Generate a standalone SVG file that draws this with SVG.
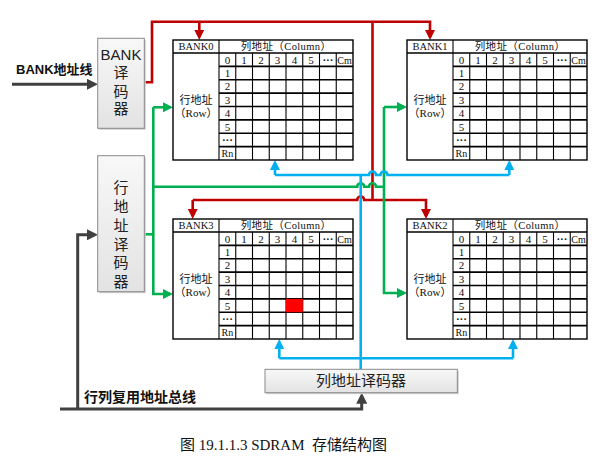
<svg xmlns="http://www.w3.org/2000/svg" xmlns:xlink="http://www.w3.org/1999/xlink" width="598" height="459" viewBox="0 0 598 459">
<style>
.tb{font-family:"Liberation Serif","Noto Sans CJK SC",serif;fill:#111;text-anchor:middle}
.hd{font-size:10.5px}
.rl{font-size:11px}
.dg{font-size:11px}
.cm{font-size:10px}
.dt{font-size:11px;font-weight:bold}
.box{fill:url(#bg);stroke:#8a8a8a;stroke-width:1}
.shd{fill:#cfcfcf}
.bt{font-family:"Liberation Sans","Noto Sans CJK SC",sans-serif;font-size:15px;fill:#222;text-anchor:middle}
.lb{font-family:"Liberation Sans","Noto Sans CJK SC",sans-serif;font-weight:bold;fill:#111}
.cap{font-family:"Liberation Serif","Noto Sans CJK SC",serif;font-size:15px;fill:#111;text-anchor:middle;white-space:pre}
.r{fill:none;stroke:#c00000;stroke-width:2.6}
.g{fill:none;stroke:#00b050;stroke-width:2.6}
.b{fill:none;stroke:#00b0f0;stroke-width:2.6}
.k{fill:none;stroke:#404040;stroke-width:3}
.gh{stroke:#000;stroke-width:1.6}
.gv{stroke:#000;stroke-width:1.1}
</style>
<defs>
<linearGradient id="bg" x1="0" y1="0" x2="0" y2="1">
<stop offset="0" stop-color="#f8f8f8"/>
<stop offset="1" stop-color="#e3e3e3"/>
</linearGradient>
<marker id="ar" viewBox="0 0 10 10" refX="7" refY="5" markerWidth="10" markerHeight="10" markerUnits="userSpaceOnUse" orient="auto"><path d="M0,0 L10,5 L0,10 z" fill="#c00000"/></marker>
<marker id="ag" viewBox="0 0 10 10" refX="7" refY="5" markerWidth="10" markerHeight="10" markerUnits="userSpaceOnUse" orient="auto"><path d="M0,0 L10,5 L0,10 z" fill="#00b050"/></marker>
<marker id="ab" viewBox="0 0 10 10" refX="7" refY="5" markerWidth="10" markerHeight="10" markerUnits="userSpaceOnUse" orient="auto"><path d="M0,0 L10,5 L0,10 z" fill="#00b0f0"/></marker>
<marker id="ak" viewBox="0 0 10 10" refX="7" refY="5" markerWidth="11" markerHeight="11" markerUnits="userSpaceOnUse" orient="auto"><path d="M0,0 L10,5 L0,10 z" fill="#404040"/></marker>
<g id="grid">
<rect x="0" y="0" width="180" height="120" fill="#fff" stroke="#000" stroke-width="1.4"/>
<line class="gh" x1="0" y1="13" x2="180" y2="13"/>
<line class="gv" x1="46" y1="0" x2="46" y2="120"/>
<line class="gh" x1="46" y1="26.4" x2="180" y2="26.4"/>
<line class="gh" x1="46" y1="39.75" x2="180" y2="39.75"/>
<line class="gh" x1="46" y1="53.1" x2="180" y2="53.1"/>
<line class="gh" x1="46" y1="66.5" x2="180" y2="66.5"/>
<line class="gh" x1="46" y1="79.9" x2="180" y2="79.9"/>
<line class="gh" x1="46" y1="93.25" x2="180" y2="93.25"/>
<line class="gh" x1="46" y1="106.6" x2="180" y2="106.6"/>
<line class="gv" x1="62.75" y1="13" x2="62.75" y2="120"/>
<line class="gv" x1="79.5" y1="13" x2="79.5" y2="120"/>
<line class="gv" x1="96.25" y1="13" x2="96.25" y2="120"/>
<line class="gv" x1="113" y1="13" x2="113" y2="120"/>
<line class="gv" x1="129.75" y1="13" x2="129.75" y2="120"/>
<line class="gv" x1="146.5" y1="13" x2="146.5" y2="120"/>
<line class="gv" x1="163.25" y1="13" x2="163.25" y2="120"/>
</g>
</defs>
<rect width="598" height="459" fill="#fff"/>

<g id="connectors">
<path class="r" d="M144.3,82.3 H152 V21.7 H430 V37" marker-end="url(#ar)"/>
<path class="r" d="M199.3,21.7 V37" marker-end="url(#ar)"/>
<path class="r" d="M372.5,21.7 V200"/>
<path class="r" d="M192.7,200 V216" marker-end="url(#ar)"/>
<path class="r" d="M192.7,200 H357.2 A3.5,3.5 0 0 1 364.2,200 H426 V216" marker-end="url(#ar)"/>
<path class="g" d="M144.3,234.3 H153.3"/>
<path class="g" d="M153.3,107.3 H170" marker-end="url(#ag)"/>
<path class="g" d="M153.3,107.3 V294 H170" marker-end="url(#ag)"/>
<path class="g" d="M153.3,186.7 H357.2 A3.5,3.5 0 0 1 364.2,186.7 H369 A3.5,3.5 0 0 1 376,186.7 H384"/>
<path class="g" d="M384,107 H404" marker-end="url(#ag)"/>
<path class="g" d="M384,107 V293 H404" marker-end="url(#ag)"/>
<path class="b" d="M275,175 H369 A3.5,3.5 0 0 1 376,175 H380.5 A3.5,3.5 0 0 1 387.5,175 H509.3"/>
<path class="b" d="M275,175 V163" marker-end="url(#ab)"/>
<path class="b" d="M509.3,175 V163" marker-end="url(#ab)"/>
<path class="b" d="M360.7,175 V369.3"/>
<path class="b" d="M279.3,358.3 H513"/>
<path class="b" d="M279.3,358.3 V342" marker-end="url(#ab)"/>
<path class="b" d="M513,358.3 V342" marker-end="url(#ab)"/>
<path class="k" d="M12,84.3 H94.7" marker-end="url(#ak)"/>
<path class="k" d="M77.7,409 V234.8 H94.7" marker-end="url(#ak)"/>
<path class="k" d="M60,409 H361.7 V396" marker-end="url(#ak)"/>
</g>

<g id="bank-addr-label">
<text class="lb" x="16" y="74" font-size="13">BANK地址线</text>
</g>

<g id="bank-decoder">
<rect class="shd" x="99.2" y="39.8" width="46.6" height="90"/>
<rect class="box" x="97.7" y="38.3" width="46.6" height="90"/>
<text class="bt" x="121" y="59.5" font-size="12">BANK</text>
<text class="bt" x="121" y="78">译</text>
<text class="bt" x="121" y="96.5">码</text>
<text class="bt" x="121" y="114">器</text>
</g>

<g id="row-decoder">
<rect class="shd" x="99.2" y="157.2" width="46.6" height="136"/>
<rect class="box" x="97.7" y="155.7" width="46.6" height="136"/>
<text class="bt" x="121" y="193.2">行</text>
<text class="bt" x="121" y="212.2">地</text>
<text class="bt" x="121" y="230.8">址</text>
<text class="bt" x="121" y="249.5">译</text>
<text class="bt" x="121" y="268.2">码</text>
<text class="bt" x="121" y="287.2">器</text>
</g>

<g id="col-decoder">
<rect class="shd" x="266.5" y="370.8" width="192.3" height="23.4"/>
<rect class="box" x="265" y="369.3" width="192.3" height="23.4"/>
<text class="bt" x="361" y="386" font-size="14">列地址译码器</text>
</g>

<g id="bus-label">
<text class="lb" x="84" y="401.7" font-size="14">行列复用地址总线</text>
</g>

<g id="bank0" transform="translate(173,40)">
<use xlink:href="#grid"/>
<g class="tb">
<text class="hd" x="23" y="10.3">BANK0</text>
<text class="hd" x="113" y="10.3" letter-spacing="0.4">列地址（Column）</text>
<text class="rl" x="23" y="64">行地址</text>
<text class="rl" x="23" y="76.5">（Row）</text>
<text class="dg" x="54.4" y="23.7">0</text><text class="dg" x="71.1" y="23.7">1</text><text class="dg" x="87.9" y="23.7">2</text><text class="dg" x="104.6" y="23.7">3</text><text class="dg" x="121.4" y="23.7">4</text><text class="dg" x="138.1" y="23.7">5</text><text class="dt" x="154.9" y="23.7">···</text><text class="cm" x="171.6" y="23.7">Cm</text>
<text class="dg" x="54.4" y="37.1">1</text><text class="dg" x="54.4" y="50.4">2</text><text class="dg" x="54.4" y="63.8">3</text><text class="dg" x="54.4" y="77.2">4</text><text class="dg" x="54.4" y="90.6">5</text><text class="dt" x="54.4" y="103.9">···</text><text class="cm" x="54.4" y="117.3">Rn</text>
</g>
</g>

<g id="bank1" transform="translate(407,40)">
<use xlink:href="#grid"/>
<g class="tb">
<text class="hd" x="23" y="10.3">BANK1</text>
<text class="hd" x="113" y="10.3" letter-spacing="0.4">列地址（Column）</text>
<text class="rl" x="23" y="64">行地址</text>
<text class="rl" x="23" y="76.5">（Row）</text>
<text class="dg" x="54.4" y="23.7">0</text><text class="dg" x="71.1" y="23.7">1</text><text class="dg" x="87.9" y="23.7">2</text><text class="dg" x="104.6" y="23.7">3</text><text class="dg" x="121.4" y="23.7">4</text><text class="dg" x="138.1" y="23.7">5</text><text class="dt" x="154.9" y="23.7">···</text><text class="cm" x="171.6" y="23.7">Cm</text>
<text class="dg" x="54.4" y="37.1">1</text><text class="dg" x="54.4" y="50.4">2</text><text class="dg" x="54.4" y="63.8">3</text><text class="dg" x="54.4" y="77.2">4</text><text class="dg" x="54.4" y="90.6">5</text><text class="dt" x="54.4" y="103.9">···</text><text class="cm" x="54.4" y="117.3">Rn</text>
</g>
</g>

<g id="bank3" transform="translate(173,219)">
<use xlink:href="#grid"/>
<rect x="113" y="79.9" width="16.75" height="13.35" fill="#ff0000"/>
<g class="tb">
<text class="hd" x="23" y="10.3">BANK3</text>
<text class="hd" x="113" y="10.3" letter-spacing="0.4">列地址（Column）</text>
<text class="rl" x="23" y="64">行地址</text>
<text class="rl" x="23" y="76.5">（Row）</text>
<text class="dg" x="54.4" y="23.7">0</text><text class="dg" x="71.1" y="23.7">1</text><text class="dg" x="87.9" y="23.7">2</text><text class="dg" x="104.6" y="23.7">3</text><text class="dg" x="121.4" y="23.7">4</text><text class="dg" x="138.1" y="23.7">5</text><text class="dt" x="154.9" y="23.7">···</text><text class="cm" x="171.6" y="23.7">Cm</text>
<text class="dg" x="54.4" y="37.1">1</text><text class="dg" x="54.4" y="50.4">2</text><text class="dg" x="54.4" y="63.8">3</text><text class="dg" x="54.4" y="77.2">4</text><text class="dg" x="54.4" y="90.6">5</text><text class="dt" x="54.4" y="103.9">···</text><text class="cm" x="54.4" y="117.3">Rn</text>
</g>
</g>

<g id="bank2" transform="translate(407,219)">
<use xlink:href="#grid"/>
<g class="tb">
<text class="hd" x="23" y="10.3">BANK2</text>
<text class="hd" x="113" y="10.3" letter-spacing="0.4">列地址（Column）</text>
<text class="rl" x="23" y="64">行地址</text>
<text class="rl" x="23" y="76.5">（Row）</text>
<text class="dg" x="54.4" y="23.7">0</text><text class="dg" x="71.1" y="23.7">1</text><text class="dg" x="87.9" y="23.7">2</text><text class="dg" x="104.6" y="23.7">3</text><text class="dg" x="121.4" y="23.7">4</text><text class="dg" x="138.1" y="23.7">5</text><text class="dt" x="154.9" y="23.7">···</text><text class="cm" x="171.6" y="23.7">Cm</text>
<text class="dg" x="54.4" y="37.1">1</text><text class="dg" x="54.4" y="50.4">2</text><text class="dg" x="54.4" y="63.8">3</text><text class="dg" x="54.4" y="77.2">4</text><text class="dg" x="54.4" y="90.6">5</text><text class="dt" x="54.4" y="103.9">···</text><text class="cm" x="54.4" y="117.3">Rn</text>
</g>
</g>

<g id="caption">
<text class="cap" x="283.5" y="450" xml:space="preserve">图 19.1.1.3 SDRAM  存储结构图</text>
</g>
</svg>
